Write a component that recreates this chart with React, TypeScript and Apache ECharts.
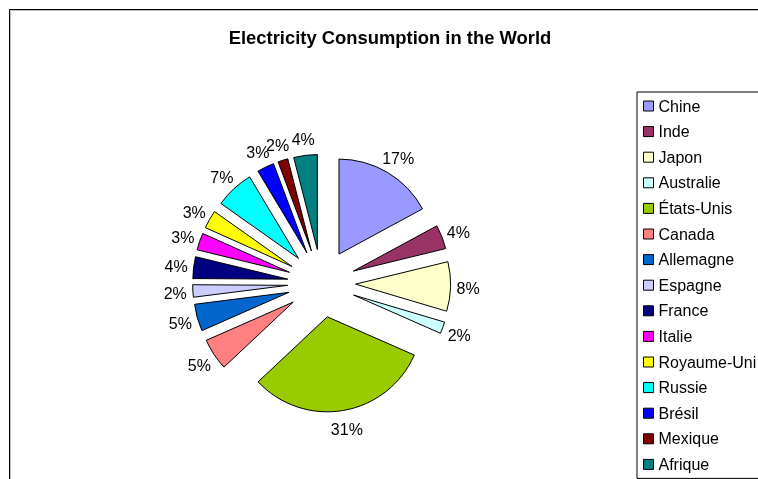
import React, { useEffect, useRef } from "react";
import * as echarts from "echarts";

const TITLE = "Electricity Consumption in the World";
const countries = [
  "Chine", "Inde", "Japon", "Australie", "États-Unis", "Canada", "Allemagne",
  "Espagne", "France", "Italie", "Royaume-Uni", "Russie", "Brésil", "Mexique", "Afrique",
];
const shares = [17.1, 4.1, 8.4, 2.0, 31.4, 5.4, 4.6, 2.1, 3.7, 2.9, 3.1, 6.6, 2.9, 1.7, 4.0];
const colors = [
  "#9999FF", "#993366", "#FFFFCC", "#CCFFFF", "#99CC00", "#FF8080", "#0066CC",
  "#CCCCFF", "#000080", "#FF00FF", "#FFFF00", "#00FFFF", "#0000FF", "#800000", "#008080",
];

const FONT = "Arial, 'Liberation Sans', sans-serif";

export default function App() {
  const ref = useRef<HTMLDivElement>(null);
  useEffect(() => {
    if (!ref.current) return;
    const chart = echarts.init(ref.current, undefined, { renderer: "svg" });
    const CX = 313.6;
    const CY = 275.3;
    const R = 95;
    const offset = 34;
    const labelDist = 101.5;
    const pieData = countries.map((n, i) => ({
      name: n,
      value: shares[i],
      selected: true,
      itemStyle: { color: colors[i] },
    }));
    const labelData = countries.map((n, i) => ({
      name: n,
      value: shares[i],
      selected: true,
    }));
    chart.setOption({
      animation: false,
      color: colors,
      title: {
        text: TITLE,
        left: 377,
        top: 15,
        textAlign: "center",
        textStyle: { fontFamily: FONT, fontSize: 18.4, fontWeight: "bold", color: "#000" },
      },
      legend: {
        orient: "vertical",
        left: 629,
        top: 84,
        padding: [6, 24, 6, 6],
        itemWidth: 10,
        itemHeight: 10,
        itemGap: 9.6,
        icon: "rect",
        borderColor: "#000",
        borderWidth: 1,
        backgroundColor: "#fff",
        shadowColor: "rgba(0,0,0,0.35)",
        shadowOffsetX: 1,
        shadowOffsetY: 1,
        selectedMode: false,
        itemStyle: { borderColor: "#000", borderWidth: 1 },
        textStyle: { fontFamily: FONT, fontSize: 16, lineHeight: 16, color: "#000" },
        data: countries,
      },
      graphic: [
        { type: "rect", shape: { x: 1.5, y: 1.5, width: 1000, height: 1000 }, style: { fill: "none", stroke: "#000", lineWidth: 1 }, silent: true, z: -1 },
        { type: "rect", shape: { x: 2.5, y: 2.5, width: 1000, height: 1000 }, style: { fill: "none", stroke: "#bbb", lineWidth: 1 }, silent: true, z: -1 },
      ],
      series: [
        {
          type: "pie",
          name: "slices",
          center: [CX, CY],
          radius: [0, R],
          startAngle: 90,
          clockwise: true,
          selectedMode: "multiple",
          selectedOffset: offset,
          avoidLabelOverlap: false,
          label: { show: false },
          labelLine: { show: false },
          itemStyle: { borderColor: "#000", borderWidth: 1 },
          emphasis: { disabled: true },
          select: { itemStyle: { borderColor: "#000", borderWidth: 1 } },
          data: pieData,
          silent: true,
        },
        {
          type: "pie",
          name: "labels",
          center: [CX, CY],
          radius: [labelDist - 10, labelDist + 10],
          startAngle: 90,
          clockwise: true,
          selectedMode: "multiple",
          selectedOffset: offset,
          avoidLabelOverlap: false,
          percentPrecision: 0,
          itemStyle: { color: "rgba(0,0,0,0)", borderWidth: 0 },
          select: { itemStyle: { color: "rgba(0,0,0,0)", borderWidth: 0 } },
          emphasis: { disabled: true },
          labelLine: { show: false },
          label: {
            show: true,
            position: "inside",
            formatter: "{d}%",
            color: "#000",
            fontFamily: FONT,
            fontSize: 16,
            overflow: "none",
          },
          labelLayout: (p: any) => {
            const r = p.labelRect;
            const vx = r.x + r.width / 2 - CX;
            const vy = r.y + r.height / 2 - CY;
            const len = Math.hypot(vx, vy) || 1;
            const s = vx / len;
            const c = -vy / len;
            return { dx: (r.width / 2) * s * 0.7, dy: -8 * c + 1.5, hideOverlap: false };
          },
          data: labelData,
          silent: true,
          z: 3,
        },
      ],
    });
    return () => chart.dispose();
  }, []);
  return (
    <div style={{ position: "fixed", left: 8, top: 8, width: 750, height: 471, overflow: "hidden" }}>
      <div ref={ref} style={{ width: 820, height: 480 }} />
    </div>
  );
}
